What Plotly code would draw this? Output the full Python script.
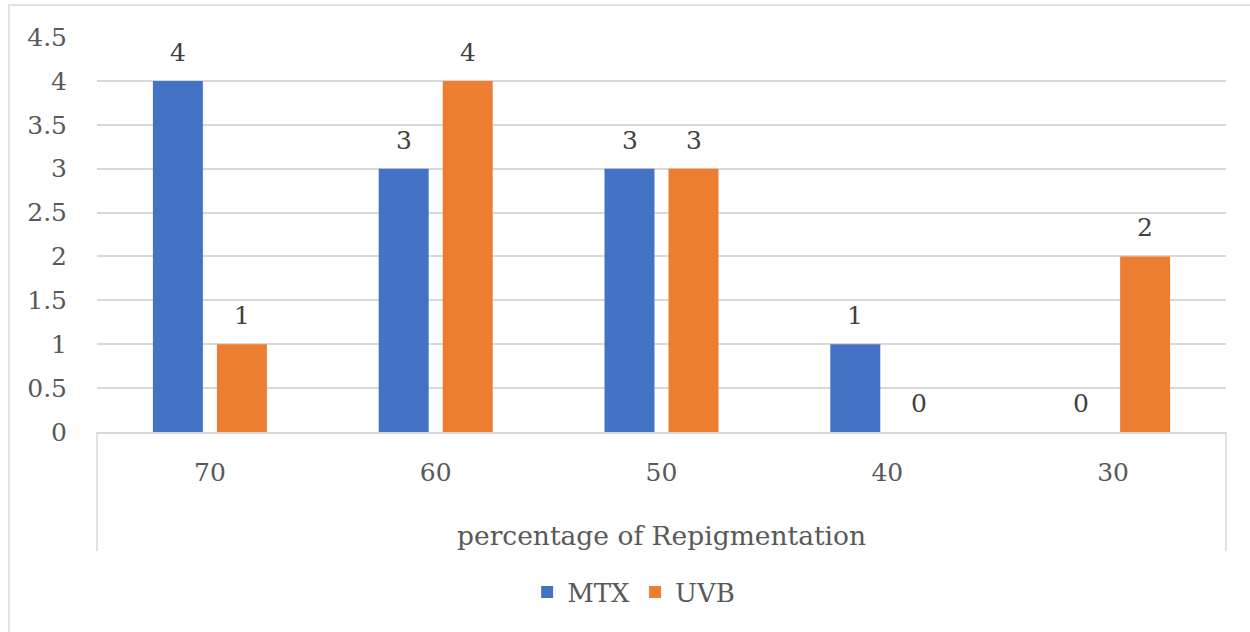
import plotly.graph_objects as go

# Number of patients by repigmentation percentage, per treatment group
categories = ["70", "60", "50", "40", "30"]
mtx_values = [4, 3, 3, 1, 0]
uvb_values = [1, 4, 3, 0, 2]
y_ticks = [0, 0.5, 1, 1.5, 2, 2.5, 3, 3.5, 4, 4.5]
y_tick_labels = ["0", "0.5", "1", "1.5", "2", "2.5", "3", "3.5", "4", "4.5"]

FONT = "DejaVu Serif"
TEXT = "#595959"
GRID = "#D9D9D9"
BLUE = "#4472C4"
ORANGE = "#ED7D31"
FS = 25

fig = go.Figure()
fig.add_trace(go.Bar(name="MTX", x=categories, y=mtx_values, marker_color=BLUE,
                     marker_line_width=0))
fig.add_trace(go.Bar(name="UVB", x=categories, y=uvb_values, marker_color=ORANGE,
                     marker_line_width=0))

# value labels above each bar, shifted onto their group slot
# (category axis: annotation x is the category index)
SLOT = 32
for i, v in enumerate(mtx_values):
    fig.add_annotation(x=i, y=v, xref="x", yref="y", text=str(v), showarrow=False,
                       xshift=-SLOT, yshift=12, yanchor="bottom",
                       font=dict(family=FONT, size=FS, color="#404040"))
for i, v in enumerate(uvb_values):
    fig.add_annotation(x=i, y=v, xref="x", yref="y", text=str(v), showarrow=False,
                       xshift=SLOT, yshift=12, yanchor="bottom",
                       font=dict(family=FONT, size=FS, color="#404040"))

# category axis title
fig.add_annotation(x=0.5, y=-0.261, xref="paper", yref="paper",
                   text="percentage of Repigmentation", showarrow=False,
                   yanchor="middle", font=dict(family=FONT, size=26.5, color=TEXT))

# outer chart frame and category-axis box
line = dict(color=GRID, width=1.5)
fig.add_shape(type="rect", xref="paper", yref="paper", x0=-0.078, x1=1.03,
              y0=-0.6, y1=1.081, line=line, layer="below")
fig.add_shape(type="line", xref="paper", yref="paper", x0=0, x1=0,
              y0=0, y1=-0.301, line=line)
fig.add_shape(type="line", xref="paper", yref="paper", x0=1, x1=1,
              y0=0, y1=-0.301, line=line)

fig.update_layout(
    width=1250, height=632,
    margin=dict(l=97, r=24, t=37, b=200),
    paper_bgcolor="white", plot_bgcolor="white",
    barmode="group", bargap=0.433, bargroupgap=0.219,
    font=dict(family=FONT, size=FS, color=TEXT),
    showlegend=True,
    legend=dict(orientation="h", x=0.381, xanchor="left", y=-0.405, yanchor="middle",
                font=dict(family=FONT, size=26, color=TEXT), itemwidth=30,
                traceorder="normal"),
    xaxis=dict(type="category", range=[-0.5, len(categories) - 0.5],
               showgrid=False, showline=True, linecolor=GRID, linewidth=1.5,
               ticks="outside", ticklen=17, tickcolor="rgba(0,0,0,0)",
               tickfont=dict(family=FONT, size=FS, color=TEXT)),
    yaxis=dict(range=[0, 4.5], tickvals=y_ticks, ticktext=y_tick_labels,
               showgrid=True, gridcolor=GRID, gridwidth=1.5, zeroline=False,
               showline=False, ticks="outside", ticklen=24,
               tickcolor="rgba(0,0,0,0)",
               tickfont=dict(family=FONT, size=FS, color=TEXT)),
)

fig.write_html("out.html")
